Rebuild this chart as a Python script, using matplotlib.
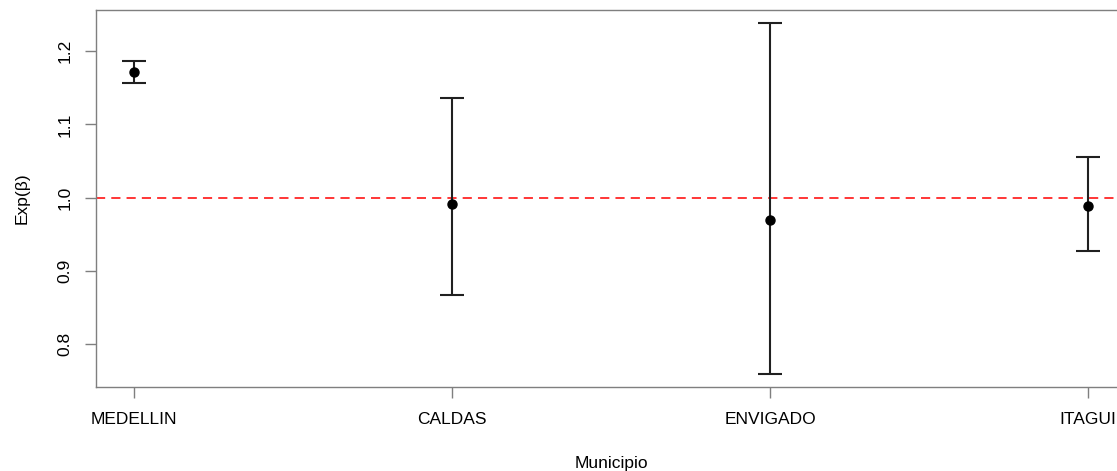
import numpy as np
import matplotlib
matplotlib.use("Agg")
import matplotlib.pyplot as plt

plt.rcParams['font.family'] = ['Liberation Sans', 'DejaVu Sans']

# estimates
municipios = ["MEDELLIN", "CALDAS", "ENVIGADO", "ITAGUI"]
exp_beta = [1.171, 0.992, 0.970, 0.989]
lower = [1.156, 0.867, 0.760, 0.928]
upper = [1.186, 1.136, 1.238, 1.055]

x = np.arange(1, len(municipios) + 1)
est = np.array(exp_beta)
yerr = np.array([est - np.array(lower), np.array(upper) - est])

fig = plt.figure(figsize=(11.17, 4.71), dpi=100)
ax = fig.add_axes([0.0859, 0.1783, 1.0081 - 0.0859, 0.9798 - 0.1783])

ax.axhline(1.0, color='red', lw=1.1, ls=(0, (6, 4)), zorder=1)
ax.errorbar(x, est, yerr=yerr, fmt='o', color='black', ecolor='#202020',
            elinewidth=1.5, capsize=8.6, capthick=1.5, ms=6.5, zorder=3)

ax.set_xlim(0.88, 4.12)
ax.set_ylim(0.7418, 1.2567)
ax.set_xticks(x)
ax.set_xticklabels(municipios)
ax.set_yticks([0.8, 0.9, 1.0, 1.1, 1.2])
ax.set_yticklabels(["0.8", "0.9", "1.0", "1.1", "1.2"], rotation=90, va='center')

for s in ax.spines.values():
    s.set_color('#7f7f7f')
    s.set_linewidth(1.0)
ax.spines['right'].set_visible(False)
ax.tick_params(axis='both', colors='#7f7f7f', length=8, width=1.0,
               labelcolor='black', labelsize=12.5)
ax.tick_params(axis='x', pad=10)
ax.tick_params(axis='y', pad=9)

ax.set_xlabel("Municipio", fontsize=12.5, va='center')
ax.set_ylabel("Exp(β)", fontsize=12.5, va='center')
ax.xaxis.set_label_coords(0.5, -(463 - 387) / 377)
ax.yaxis.set_label_coords(-(96 - 22) / 1030, 0.5)

fig.savefig("out.png", dpi=100)
